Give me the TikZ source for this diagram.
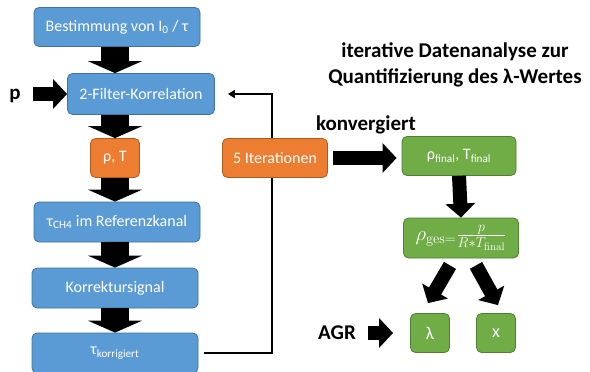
\documentclass[tikz,border=0pt]{standalone}
\usepackage[no-math]{fontspec}
\setmainfont{Carlito}
\usepackage{tikz}
\usetikzlibrary{arrows.meta,calc}

\definecolor{boxblue}{HTML}{5B9BD5}
\definecolor{blueedge}{HTML}{41719C}
\definecolor{boxorange}{HTML}{ED7D31}
\definecolor{orangeedge}{HTML}{AE5A21}
\definecolor{boxgreen}{HTML}{70AD47}
\definecolor{greenedge}{HTML}{507E32}

\tikzset{
  box/.style={rounded corners=5pt, line width=0.8pt, text=white, inner sep=0pt,
    font=\fontsize{16}{19}\selectfont},
  bluebox/.style={box, fill=boxblue, draw=blueedge},
  orangebox/.style={box, fill=boxorange, draw=orangeedge},
  greenbox/.style={box, fill=boxgreen, draw=greenedge},
  fat/.style={line width=28pt, -{Triangle[length=12pt,width=54pt]}},
  slim/.style={line width=14pt, -{Triangle[length=14pt,width=29pt]}},
  back/.style={line width=2pt, -{Triangle[length=7pt,width=8pt]}},
  boldtext/.style={font=\bfseries\fontsize{21}{26}\selectfont}
}

\begin{document}
\begin{tikzpicture}[x=1pt,y=-1pt]
\useasboundingbox (0,0) rectangle (590,372);

% left column
\node[bluebox, minimum width=166pt, minimum height=39pt] (best) at (117,27) {Bestimmung von I\textsubscript{0} / τ};
\node[bluebox, minimum width=147pt, minimum height=41pt] (fk) at (141,94) {2-Filter-Korrelation};
\node[orangebox, minimum width=49pt, minimum height=39pt] (rt) at (115,158) {ρ, T};
\node[bluebox, minimum width=166pt, minimum height=40pt] (tch) at (117,222) {τ\textsubscript{CH4} im Referenzkanal};
\node[bluebox, minimum width=166pt, minimum height=40pt] (korr) at (115,288) {Korrektursignal};
\node[bluebox, minimum width=166pt, minimum height=40pt] (tk) at (115,353) {τ\textsubscript{korrigiert}};

\draw[fat] (best.south -| rt) -- (fk.north -| rt);
\draw[fat] (fk.south -| rt) -- (rt.north);
\draw[fat] (rt.south) -- (tch.north -| rt);
\draw[fat] (tch.south -| rt) -- (korr.north -| rt);
\draw[fat] (korr.south -| rt) -- (tk.north -| rt);

\node[boldtext] (p) at (15,96) {p};
\coordinate (pin) at (33,94);
\draw[slim] (pin) -- (fk.west);

% iteration loop
\coordinate (turn) at (272,94);
\draw[back, shorten <=6pt, shorten >=13pt] (tk.east) -| (turn) -- (fk.east);
\node[orangebox, minimum width=105pt, minimum height=39pt] (iter) at (275,158) {5 Iterationen};

% right side
\node[boldtext, align=center] (title) at (455,65) {iterative Datenanalyse zur\\Quantifizierung des λ-Wertes};
\node[boldtext] (konv) at (366,125) {konvergiert};
\node[greenbox, minimum width=114pt, minimum height=39pt] (rf) at (459,156) {ρ\textsubscript{final}, T\textsubscript{final}};
\node[greenbox, minimum width=115pt, minimum height=40pt, font=\fontsize{21}{24}\selectfont] (rg) at (461,238) {$\rho_{\mathrm{ges}=}\frac{p}{R*T_{\mathrm{final}}}$};
\node[greenbox, minimum width=39pt, minimum height=39pt, font=\fontsize{18}{20}\selectfont] (lam) at (430,333) {λ};
\node[greenbox, minimum width=39pt, minimum height=39pt, font=\fontsize{18}{20}\selectfont] (xx) at (496,333) {x};
\node[boldtext] (agr) at (337,333) {AGR};

\draw[slim, shorten <=5pt, shorten >=5pt] (iter.east) -- (iter.east -| rf.west);
\draw[slim] (rf.south) -- (rg.north);
\draw[slim] ($(rg.south)+(-11,7)$) -- ($(lam.north)+(-2,-10)$);
\draw[slim] ($(rg.south)+(15,7)$) -- ($(xx.north)+(2,-8)$);
\draw[slim, shorten <=9pt, shorten >=17pt] (agr.east) -- (lam.west);
\end{tikzpicture}
\end{document}
